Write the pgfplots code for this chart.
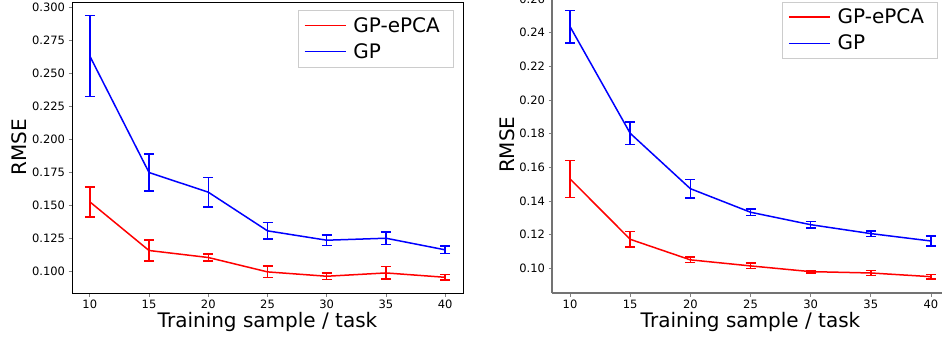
\documentclass[border=0pt]{standalone}
\usepackage{fontspec}
\setmainfont{DejaVu Sans}
\usepackage{pgfplots}
\pgfplotsset{compat=1.18}
\definecolor{mplred}{RGB}{255,0,0}
\definecolor{mplblue}{RGB}{0,0,255}
\pgfplotsset{
  common/.style={
    scale only axis,
    anchor=south west,
    xmin=8.5, xmax=41.5,
    xtick={10,15,20,25,30,35,40},
    tick align=outside,
    tick pos=left,
    major tick length=3.5pt,
    tick style={line width=0.8pt},
    ticklabel style={font=\fontsize{11.5}{12}\selectfont},
    /pgf/number format/assume math mode=true,
    xlabel={Training sample / task},
    ylabel={RMSE},
    label style={font=\fontsize{20}{22}\selectfont},
    xlabel style={yshift=3pt},
    legend cell align=left,
    legend style={font=\fontsize{20}{22}\selectfont, draw=black!20, fill=white, inner xsep=6pt, inner ysep=5pt, row sep=6pt,
      nodes={inner xsep=7pt}},
  },
  eb/.style={line width=1.5pt, error bars/.cd, y dir=both, y explicit,
    error bar style={line width=1.5pt, solid},
    error mark options={rotate=90, mark size=5pt, line width=1.5pt}},
}
\begin{document}
\begin{tikzpicture}
\path[use as bounding box] (0,0) rectangle (942pt,343pt);
\begin{axis}[common,
  at={(72pt,50pt)}, width=391pt, height=291pt,
  ymin=0.0835, ymax=0.304,
  ytick={0.100,0.125,0.150,0.175,0.200,0.225,0.250,0.275,0.300},
  yticklabel style={/pgf/number format/.cd, fixed, fixed zerofill, precision=3},
  axis line style={black, line width=0.9pt},
  ylabel style={yshift=-2pt},
  legend style={at={(0.9745,0.9725)}, anchor=north east},
]
\addlegendimage{legend image code/.code={\draw[mplred, line width=1.5pt] (0pt,0pt) -- (41pt,0pt);}}
\addlegendentry{GP-ePCA}
\addlegendimage{legend image code/.code={\draw[mplblue, line width=1.5pt] (0pt,0pt) -- (41pt,0pt);}}
\addlegendentry{GP}
\addplot[mplred, forget plot, eb] coordinates {
(10,0.1526) +- (0,0.0114)
(15,0.1157) +- (0,0.0080)
(20,0.1104) +- (0,0.0028)
(25,0.0995) +- (0,0.0043)
(30,0.0962) +- (0,0.0025)
(35,0.0987) +- (0,0.0047)
(40,0.0954) +- (0,0.0020)
};
\addplot[mplblue, forget plot, eb] coordinates {
(10,0.2631) +- (0,0.0307)
(15,0.1748) +- (0,0.0140)
(20,0.1599) +- (0,0.0111)
(25,0.1306) +- (0,0.0062)
(30,0.1235) +- (0,0.0039)
(35,0.1250) +- (0,0.0048)
(40,0.1162) +- (0,0.0028)
};
\end{axis}
\begin{axis}[common,
  at={(552pt,50pt)}, width=397pt, height=296.5pt,
  ymin=0.0853, ymax=0.2615,
  ytick={0.10,0.12,0.14,0.16,0.18,0.20,0.22,0.24,0.26},
  yticklabel style={/pgf/number format/.cd, fixed, fixed zerofill, precision=2},
  axis x line*=bottom, axis y line*=left,
  axis line style={black!55, line width=1.2pt, -},
  ylabel style={yshift=-2pt},
  legend style={at={(0.9705,0.9828)}, anchor=north east},
]
\addlegendimage{legend image code/.code={\draw[mplred, line width=1.5pt] (0pt,0pt) -- (41pt,0pt);}}
\addlegendentry{GP-ePCA}
\addlegendimage{legend image code/.code={\draw[mplblue, line width=1.5pt] (0pt,0pt) -- (41pt,0pt);}}
\addlegendentry{GP}
\addplot[mplred, forget plot, eb] coordinates {
(10,0.1531) +- (0,0.0110)
(15,0.1172) +- (0,0.0045)
(20,0.1050) +- (0,0.0017)
(25,0.1014) +- (0,0.0016)
(30,0.0980) +- (0,0.0007)
(35,0.0972) +- (0,0.0016)
(40,0.0950) +- (0,0.0013)
};
\addplot[mplblue, forget plot, eb] coordinates {
(10,0.2436) +- (0,0.0096)
(15,0.1802) +- (0,0.0067)
(20,0.1473) +- (0,0.0055)
(25,0.1333) +- (0,0.0020)
(30,0.1259) +- (0,0.0020)
(35,0.1206) +- (0,0.0016)
(40,0.1162) +- (0,0.0030)
};
\end{axis}
\end{tikzpicture}
\end{document}
